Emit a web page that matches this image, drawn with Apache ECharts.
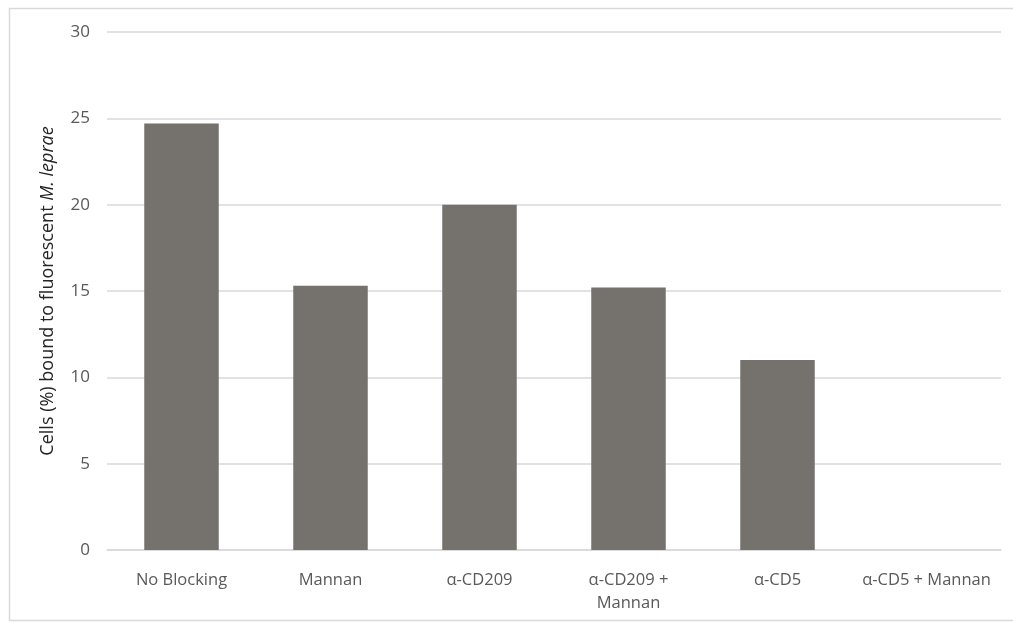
<!DOCTYPE html>
<html>
<head>
<meta charset="utf-8">
<script src="https://cdn.jsdelivr.net/npm/echarts@6/dist/echarts.min.js"></script>
<style>
  html, body { margin: 0; padding: 0; background: #ffffff; }
  #chart { width: 1013px; height: 623px; }
</style>
</head>
<body>
<div id="chart"></div>
<script>
// Blocking conditions and the share of cells bound to M. leprae
const categories = ['No Blocking', 'Mannan', 'α-CD209', 'α-CD209 +\nMannan', 'α-CD5', 'α-CD5 + Mannan'];
const boundPercent = [24.7, 15.3, 20.0, 15.2, 11.0, 0];
const yTicks = [0, 5, 10, 15, 20, 25, 30];

const textColor = '#595959';
const gridColor = '#d9d9d9';
const font = '"Open Sans", "Liberation Sans", sans-serif';

const chart = echarts.init(document.getElementById('chart'), null, { renderer: 'canvas' });
chart.setOption({
  animation: false,
  backgroundColor: '#ffffff',
  graphic: [{
    type: 'rect',
    shape: { x: 9.5, y: 8.5, width: 1010, height: 612 },
    style: { fill: 'none', stroke: gridColor, lineWidth: 1.5 },
    silent: true
  }],
  grid: { left: 107, right: 12, top: 32, bottom: 73 },
  xAxis: {
    type: 'category',
    data: categories,
    axisTick: { show: false },
    axisLine: { show: true, lineStyle: { color: gridColor, width: 1.5 } },
    axisLabel: {
      color: textColor, fontFamily: font, fontSize: 16.5,
      margin: 19, lineHeight: 23, interval: 0
    }
  },
  yAxis: {
    type: 'value',
    min: yTicks[0],
    max: yTicks[yTicks.length - 1],
    interval: yTicks[1] - yTicks[0],
    axisLine: { show: false },
    axisTick: { show: false },
    splitLine: { lineStyle: { color: gridColor, width: 1.5 } },
    axisLabel: { color: textColor, fontFamily: font, fontSize: 17, margin: 17 },
    name: '{n|Cells (%) bound to fluorescent }{i|M. leprae}',
    nameLocation: 'middle',
    nameGap: 50,
    nameRotate: 90,
    nameTextStyle: {
      rich: {
        n: { color: '#262626', fontFamily: font, fontSize: 18 },
        i: { color: '#262626', fontFamily: font, fontSize: 18, fontStyle: 'italic' }
      }
    }
  },
  series: [{
    type: 'bar',
    data: boundPercent,
    barWidth: '50%',
    itemStyle: { color: '#75716d' },
    silent: true
  }]
});
</script>
</body>
</html>
